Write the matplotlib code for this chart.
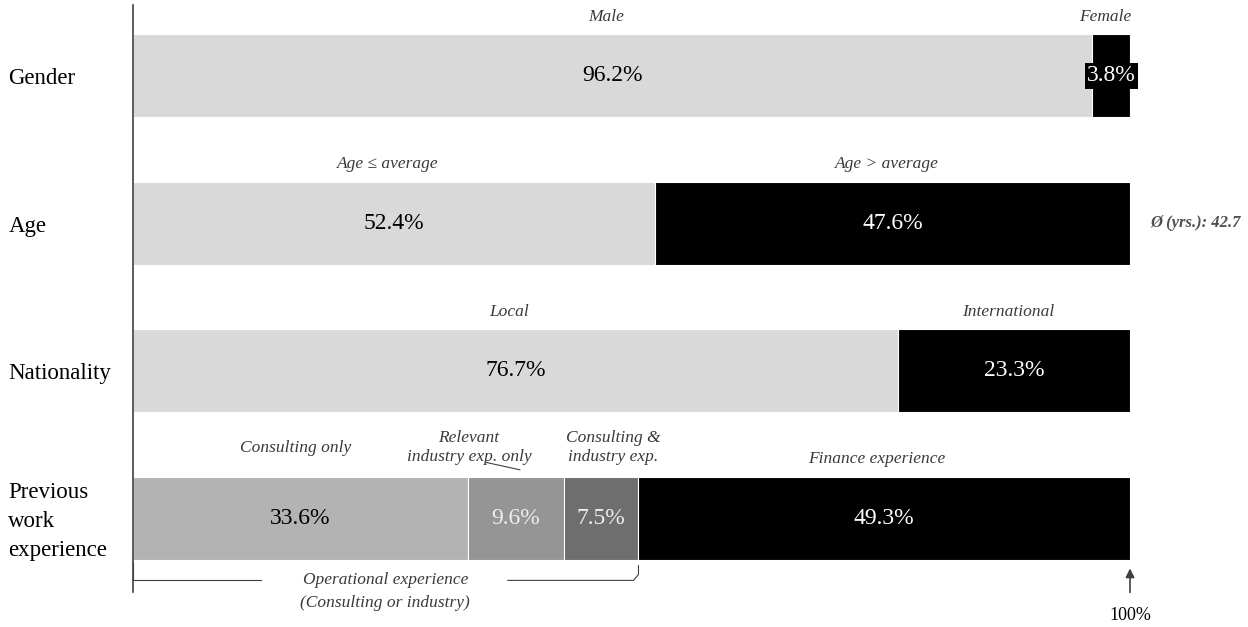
import numpy as np
import matplotlib.pyplot as plt

plt.rcParams['font.family'] = ['Liberation Serif', 'DejaVu Serif']

# data
rows = ['Gender', 'Age', 'Nationality', 'Previous\nwork\nexperience']
shares = [
    [96.2, 3.8],
    [52.4, 47.6],
    [76.7, 23.3],
    [33.6, 9.6, 7.5, 49.3],
]
seg_labels = [
    ['Male', 'Female'],
    ['Age \u2264 average', 'Age > average'],
    ['Local', 'International'],
    ['Consulting only', 'Relevant\nindustry exp. only', 'Consulting &\nindustry exp.', 'Finance experience'],
]
colors = [
    ['#d9d9d9', '#000000'],
    ['#d9d9d9', '#000000'],
    ['#d9d9d9', '#000000'],
    ['#b3b3b3', '#959595', '#6e6e6e', '#000000'],
]
txt_colors = [
    ['black', 'white'],
    ['black', 'white'],
    ['black', 'white'],
    ['black', '#eeeeee', '#eeeeee', 'white'],
]
avg_age = 42.7

W, H = 1248, 627
fig = plt.figure(figsize=(W / 100, H / 100), dpi=100)
ax = fig.add_axes([133 / W, 0, 997 / W, 1])
ax.set_xlim(0, 100)
ax.set_ylim(3.736, -0.515)
ax.axis('off')

bh = 0.563
hdr = dict(fontsize=12.5, style='italic', color='#3a3a3a', ha='center', va='center')
for i, vals in enumerate(shares):
    left = 0
    for j, v in enumerate(vals):
        ax.barh(i, v, left=left, height=bh, color=colors[i][j], edgecolor='white', linewidth=0.8)
        c = left + v / 2
        if i == 0 and j == 1:
            ax.text(c, i, f'{v}%', ha='center', va='center', fontsize=17, color='white',
                    bbox=dict(facecolor='black', edgecolor='none', pad=1.5))
        else:
            ax.text(c, i, f'{v}%', ha='center', va='center', fontsize=17, color=txt_colors[i][j])
        # segment headers
        lab = seg_labels[i][j]
        if i < 3:
            ax.text(c - 0.6, i - 0.40, lab, **hdr)
        else:
            if j == 0:
                ax.text(c - 0.5, i - 0.48, lab, **hdr)
            elif j == 1:
                ax.text(c - 4.7, i - 0.48, lab, linespacing=1.3, **hdr)
                ax.plot([c - 3.0, c + 0.4], [i - 0.38, i - 0.33], color='#404040', lw=0.8)
            elif j == 2:
                ax.text(c + 1.2, i - 0.48, lab, linespacing=1.3, **hdr)
            else:
                ax.text(c - 0.8, i - 0.40, lab, **hdr)
        left += v

# row labels
for i, r in enumerate(rows):
    yy = i + (0.02 if i < 3 else 0.02)
    ax.text(-12.5, yy, r, ha='left', va='center', fontsize=16.5, color='black', linespacing=1.5, clip_on=False)

# vertical axis line
ax.plot([0, 0], [-0.48, 3.5], color='#404040', lw=1.2, clip_on=False)

# average age note
ax.text(102.0, 1, f'\u00d8 (yrs.): {avg_age}', ha='left', va='center', fontsize=12,
        style='italic', weight='bold', color='#505050', clip_on=False)

# operational experience bracket
op_end = sum(shares[3][:3])
yb = 3 + 0.42
ax.plot([0, 0, 12.8], [3 + 0.3, yb, yb], color='#404040', lw=0.8)
ax.plot([37.6, op_end - 0.5, op_end, op_end], [yb, yb, yb - 0.04, 3 + 0.32], color='#404040', lw=0.8)
ax.text(25.3, yb, 'Operational experience', **hdr)
ax.text(25.3, yb + 0.155, '(Consulting or industry)', **hdr)

# 100% arrow
ax.annotate('', xy=(100, 3 + 0.32), xytext=(100, 3 + 0.52),
            arrowprops=dict(arrowstyle='-|>', color='#404040', lw=1.2, mutation_scale=13))
ax.text(100, 3 + 0.655, '100%', ha='center', va='center', fontsize=13, color='black', clip_on=False)

fig.savefig('out.png', dpi=100)
